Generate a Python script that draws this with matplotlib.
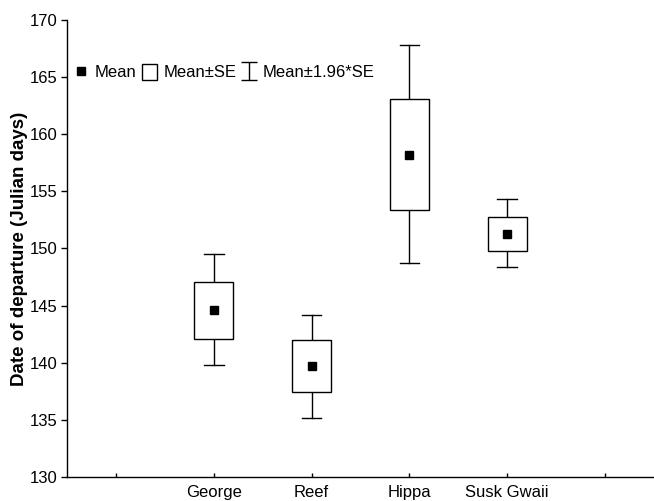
import matplotlib
matplotlib.use("Agg")
import matplotlib.pyplot as plt
from matplotlib.patches import Rectangle, Patch
from matplotlib.lines import Line2D
from matplotlib.path import Path
import numpy as np

plt.rcParams['font.family'] = ['Liberation Sans', 'DejaVu Sans']

sites = ['George', 'Reef', 'Hippa', 'Susk Gwaii']
mean = [144.6, 139.7, 158.2, 151.3]
se_lo = [142.1, 137.4, 153.4, 149.8]
se_hi = [147.1, 142.0, 163.1, 152.8]
ci_lo = [139.8, 135.2, 148.7, 148.4]
ci_hi = [149.5, 144.2, 167.8, 154.3]

fig = plt.figure(figsize=(6.54, 5.01), dpi=100)
ax = fig.add_axes([0.1024, 0.048, 0.8976, 0.912])

pos = np.arange(1, len(sites) + 1)
box_w = 0.4
cap_w = 0.2
for x, m, lo, hi, wlo, whi in zip(pos, mean, se_lo, se_hi, ci_lo, ci_hi):
    ax.add_patch(Rectangle((x - box_w / 2, lo), box_w, hi - lo,
                           facecolor='white', edgecolor='black', lw=1.0, zorder=2))
    ax.plot([x, x], [hi, whi], color='black', lw=1.0, zorder=1)
    ax.plot([x, x], [lo, wlo], color='black', lw=1.0, zorder=1)
    ax.plot([x - cap_w / 2, x + cap_w / 2], [whi, whi], color='black', lw=1.0)
    ax.plot([x - cap_w / 2, x + cap_w / 2], [wlo, wlo], color='black', lw=1.0)
ax.plot(pos, mean, 's', color='black', ms=5.5, zorder=3)

ax.set_xlim(-0.5, 5.5)
ax.set_ylim(130, 170)
ax.set_xticks(range(0, 6))
ax.set_xticklabels([''] + sites + [''])
ax.set_yticks(range(130, 171, 5))
ax.tick_params(axis='y', labelsize=12, length=4, width=1.0, direction='out', pad=3)
ax.tick_params(axis='x', labelsize=12, length=3, width=1.0, direction='in', pad=6)
ax.spines['top'].set_visible(False)
ax.spines['right'].set_visible(False)
ax.spines['left'].set_linewidth(1.0)
ax.spines['bottom'].set_linewidth(1.0)
ax.set_ylabel('Date of departure (Julian days)', fontsize=13.5, fontweight='bold', labelpad=1)

# whisker glyph for the legend
ibar = Path([(-0.42, 0.5), (0.42, 0.5), (0, 0.5), (0, -0.5), (-0.42, -0.5), (0.42, -0.5)],
            [Path.MOVETO, Path.LINETO, Path.MOVETO, Path.LINETO, Path.MOVETO, Path.LINETO])
handles = [
    Line2D([], [], marker='s', color='black', ls='none', ms=5.5),
    Patch(facecolor='white', edgecolor='black', lw=1.0),
    Line2D([], [], marker=ibar, color='black', ls='none', ms=13, mew=1.0, fillstyle='none'),
]
labels = ['Mean', 'Mean\u00b1SE', 'Mean\u00b11.96*SE']
ax.legend(handles, labels, loc='center left', bbox_to_anchor=(0.012, 0.886), ncol=3,
          frameon=False, fontsize=12, handlelength=0.85, handletextpad=0.4,
          columnspacing=0.35, borderaxespad=0.0, borderpad=0.0, handleheight=1.1)

fig.savefig('out.png', dpi=100)
